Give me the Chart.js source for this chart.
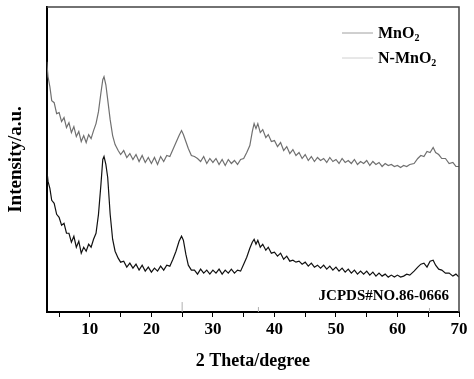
<!DOCTYPE html>
<html>
<head>
<meta charset="utf-8">
<script src="https://cdn.jsdelivr.net/npm/chart.js@4/dist/chart.umd.min.js"></script>
<style>
  html, body { margin: 0; padding: 0; background: #fff; }
</style>
</head>
<body>
<canvas id="c" width="474" height="379"></canvas>
<script>
// XRD 패턴 (2θ 3~70°)
const theta = [
  3.0, 3.2, 3.5, 3.8, 4.2, 4.6, 5.0, 5.4, 5.8, 6.2, 6.6, 7.0, 7.4, 7.8, 8.2, 8.6, 9.0, 9.4, 9.8, 10.2,
  10.6, 11.0, 11.4, 11.8, 12.1, 12.3, 12.6, 12.9, 13.3, 13.7, 14.1, 14.6, 15.0, 15.5, 16.0, 16.5, 17.0, 17.5, 18.0, 18.5,
  19.0, 19.5, 20.0, 20.5, 21.0, 21.5, 22.0, 22.5, 23.0, 23.5, 24.0, 24.5, 24.9, 25.2, 25.6, 26.0, 26.5, 27.0, 27.5, 28.0,
  28.5, 29.0, 29.5, 30.0, 30.5, 31.0, 31.5, 32.0, 32.5, 33.0, 33.5, 34.0, 34.5, 35.0, 35.5, 36.0, 36.4, 36.7, 37.0, 37.3,
  37.7, 38.1, 38.6, 39.0, 39.5, 40.0, 40.5, 41.0, 41.5, 42.0, 42.5, 43.0, 43.5, 44.0, 44.5, 45.0, 45.5, 46.0, 46.5, 47.0,
  47.5, 48.0, 48.5, 49.0, 49.5, 50.0, 50.5, 51.0, 51.5, 52.0, 52.5, 53.0, 53.5, 54.0, 54.5, 55.0, 55.5, 56.0, 56.5, 57.0,
  57.5, 58.0, 58.5, 59.0, 59.5, 60.0, 60.5, 61.0, 61.5, 62.0, 62.7, 63.3, 63.8, 64.3, 64.8, 65.3, 65.8,
  66.2, 66.7, 67.2, 67.8, 68.4, 69.0, 69.5, 70.0
];
// 위쪽 곡선 (회색)
const mno2 = [
  251, 236, 226, 212, 210, 199, 200, 191, 195, 185, 190, 180, 186, 176, 181, 171, 177, 170, 178, 174,
  182, 189, 201, 220, 233, 236, 228, 213, 193, 177, 168, 162, 158, 162, 155, 159, 153, 158, 151, 157,
  150, 155, 149, 155, 148, 156, 151, 157, 156, 163, 170, 177, 182, 178, 171, 164, 157, 156, 154, 151,
  156, 149, 154, 150, 154, 148, 153, 147, 153, 149, 152, 148, 153, 154, 160, 167, 181, 189, 184, 189,
  180, 183, 175, 178, 171, 172, 166, 170, 162, 166, 159, 163, 157, 160, 154, 158, 152, 156, 151, 155,
  152, 154, 150, 155, 151, 153, 149, 154, 150, 152, 149, 153, 148, 151, 149, 152, 147, 151, 148, 150,
  146, 149, 147, 148, 146, 147, 145, 147, 146, 148, 149, 154, 157, 156, 161, 160, 165,
  160, 158, 154, 154, 149, 150, 146, 146
];
// 아래쪽 곡선 (검정)
const nMno2 = [
  143, 131, 124, 112, 109, 98, 95, 87, 89, 79, 79, 70, 76, 65, 71, 59, 65, 61, 68, 65,
  73, 79, 98, 128, 153, 156, 148, 135, 98, 73, 61, 54, 50, 51, 45, 49, 44, 48, 42, 47,
  41, 45, 40, 44, 41, 46, 42, 47, 46, 53, 61, 71, 76, 72, 58, 47, 42, 42, 38, 43,
  39, 42, 38, 42, 39, 43, 38, 42, 39, 43, 39, 42, 41, 48, 55, 64, 70, 73, 68, 72,
  65, 68, 62, 65, 59, 60, 56, 59, 53, 56, 51, 52, 50, 51, 48, 50, 46, 49, 45, 47,
  44, 47, 43, 46, 42, 45, 41, 44, 40, 43, 39, 42, 38, 41, 38, 41, 37, 40, 36, 39,
  36, 38, 35, 37, 35, 37, 35, 36, 38, 37, 41, 45, 48, 49, 45, 51, 52,
  47, 43, 42, 39, 39, 36, 38, 35
];
// JCPDS#86-0666 기준선
const refTheta = [25.0, 37.4, 65.2];
const refHeight = [10, 5, 4];
const xTicks = [5, 10, 15, 20, 25, 30, 35, 40, 45, 50, 55, 60, 65, 70];

const SERIF = '"Liberation Serif", "Times New Roman", serif';

const refData = [];
refTheta.forEach((t, i) => {
  refData.push({ x: t, y: 0 }, { x: t, y: refHeight[i] }, { x: t, y: null });
});

const overlay = {
  id: 'overlay',
  afterDraw(chart) {
    const { ctx, chartArea: a } = chart;
    ctx.save();
    // 위/오른쪽 테두리
    ctx.strokeStyle = '#444';
    ctx.lineWidth = 1.5;
    ctx.beginPath();
    ctx.moveTo(a.left, a.top);
    ctx.lineTo(a.right, a.top);
    ctx.lineTo(a.right, a.bottom);
    ctx.stroke();

    // 범례
    const items = [
      { label: 'MnO', sub: '2', color: '#a0a0a0', y: a.top + 26 },
      { label: 'N-MnO', sub: '2', color: '#d0d0d0', y: a.top + 51 },
    ];
    ctx.textBaseline = 'alphabetic';
    ctx.textAlign = 'left';
    for (const it of items) {
      ctx.strokeStyle = it.color;
      ctx.lineWidth = 1;
      ctx.beginPath();
      ctx.moveTo(342, it.y);
      ctx.lineTo(373, it.y);
      ctx.stroke();
      ctx.fillStyle = '#000';
      ctx.font = 'bold 16px ' + SERIF;
      ctx.fillText(it.label, 378, it.y + 5);
      const w = ctx.measureText(it.label).width;
      ctx.font = 'bold 10px ' + SERIF;
      ctx.fillText(it.sub, 378 + w, it.y + 8);
    }

    // JCPDS 표기
    ctx.font = 'bold 15px ' + SERIF;
    ctx.textAlign = 'right';
    ctx.fillStyle = '#000';
    ctx.fillText('JCPDS#NO.86-0666', a.right - 10, a.bottom - 12);
    ctx.restore();
  },
};

new Chart(document.getElementById('c'), {
  type: 'line',
  data: {
    datasets: [
      {
        label: 'MnO2',
        data: theta.map((t, i) => ({ x: t, y: mno2[i] })),
        borderColor: '#707070',
        borderWidth: 1.2,
        pointRadius: 0,
        tension: 0,
      },
      {
        label: 'N-MnO2',
        data: theta.map((t, i) => ({ x: t, y: nMno2[i] })),
        borderColor: '#111',
        borderWidth: 1.2,
        pointRadius: 0,
        tension: 0,
      },
      {
        label: 'JCPDS',
        data: refData,
        borderColor: '#b0b0b0',
        borderWidth: 1,
        pointRadius: 0,
        spanGaps: false,
      },
    ],
  },
  options: {
    responsive: false,
    animation: false,
    devicePixelRatio: 1,
    layout: { padding: { left: 5, right: 15, top: 7, bottom: 7 } },
    plugins: { legend: { display: false }, tooltip: { enabled: false } },
    scales: {
      x: {
        type: 'linear',
        min: 3,
        max: 70,
        afterBuildTicks: (s) => { s.ticks = xTicks.map((v) => ({ value: v })); },
        ticks: {
          autoSkip: false,
          maxRotation: 0,
          padding: 2,
          color: '#000',
          font: { family: SERIF, size: 17, weight: 'bold' },
          callback: (v) => (v % 10 === 0 ? String(v) : ''),
        },
        grid: { display: true, drawOnChartArea: false, drawTicks: true, tickLength: 5, color: '#000', lineWidth: 1 },
        border: { display: true, color: '#000', width: 2 },
        title: {
          display: true,
          text: '2 Theta/degree',
          color: '#000',
          font: { family: SERIF, size: 18, weight: 'bold' },
          padding: { top: 9, bottom: 0 },
        },
      },
      y: {
        min: 0,
        max: 306,
        ticks: { display: false },
        grid: { display: false, drawTicks: false },
        border: { display: true, color: '#000', width: 2 },
        title: {
          display: true,
          text: 'Intensity/a.u.',
          color: '#000',
          font: { family: SERIF, size: 19, weight: 'bold' },
          padding: { top: 0, bottom: 19 },
        },
      },
    },
  },
  plugins: [overlay],
});
</script>
</body>
</html>
